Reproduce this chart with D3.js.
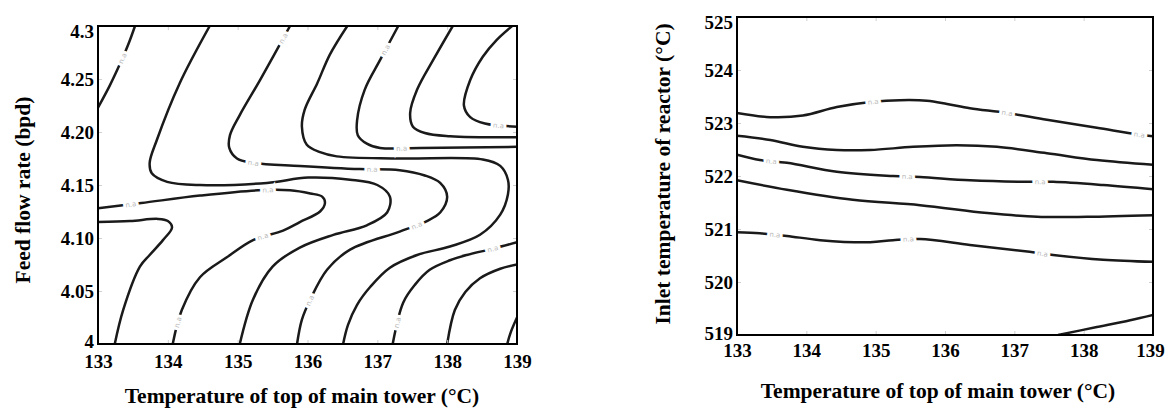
<!DOCTYPE html>
<html>
<head>
<meta charset="utf-8">
<script src="https://cdn.jsdelivr.net/npm/d3@7"></script>
<style>
body { margin: 0; background: #fff; }
svg { display: block; font-family: "Liberation Serif", "Times New Roman", serif; font-weight: bold; }
.tick-label { font-size: 19px; fill: #000; }
.axis-title { font-size: 21.5px; fill: #000; }
.contour { fill: none; stroke: #1a1a1a; stroke-width: 2.5; }
.clabel { font-family: "DejaVu Sans", sans-serif; font-weight: normal; font-size: 7px; fill: #b8b8b8; stroke: #fff; stroke-width: 6px; paint-order: stroke; }
.faint line { stroke: #cfcfcf; }
.frame { fill: none; stroke: #000; stroke-width: 2; }
</style>
</head>
<body>
<svg id="chart" width="1166" height="408"></svg>
<script>
var xTicks = [133, 134, 135, 136, 137, 138, 139];
var xTitle = "Temperature of top of main tower (°C)";

var feedTicks = [4, 4.05, 4.10, 4.15, 4.20, 4.25, 4.3];
var feedTickLabels = ["4", "4.05", "4.10", "4.15", "4.20", "4.25", "4.3"];
var feedTitle = "Feed flow rate (bpd)";

var inletTicks = [519, 520, 521, 522, 523, 524, 525];
var inletTickLabels = ["519", "520", "521", "522", "523", "524", "525"];
var inletTitle = "Inlet temperature of reactor (°C)";

// contour lines, points are [temperature, feed rate]
var feedContours = [
  [[133.00,4.223],[133.17,4.244],[133.32,4.265],[133.43,4.282],[133.53,4.300]],
  [[134.60,4.300],[134.17,4.246],[133.84,4.192],[133.74,4.171],[133.77,4.161],[133.99,4.153],[134.46,4.150],[135.42,4.152],[136.01,4.157],[136.61,4.155],[137.00,4.150],[137.18,4.139],[137.14,4.124],[136.85,4.112],[136.37,4.103],[135.89,4.091],[135.50,4.073],[135.22,4.042],[135.03,4.000]],
  [[135.75,4.300],[135.32,4.249],[135.03,4.216],[134.89,4.197],[134.88,4.185],[134.99,4.175],[135.22,4.171],[135.89,4.168],[136.75,4.165],[137.32,4.164],[137.68,4.159],[137.90,4.152],[138.00,4.139],[137.90,4.124],[137.71,4.116],[137.32,4.106],[136.61,4.089],[136.28,4.070],[136.04,4.042],[135.92,4.023],[135.85,4.000]],
  [[136.57,4.300],[136.32,4.273],[136.14,4.246],[135.96,4.221],[135.92,4.205],[135.99,4.188],[136.18,4.181],[136.42,4.177],[137.32,4.175],[138.51,4.174],[138.76,4.168],[138.87,4.155],[138.87,4.141],[138.76,4.122],[138.47,4.103],[138.04,4.092],[137.57,4.084],[137.18,4.072],[136.90,4.054],[136.71,4.037],[136.58,4.018],[136.51,4.000]],
  [[137.30,4.300],[137.04,4.268],[136.82,4.240],[136.71,4.211],[136.72,4.197],[136.85,4.189],[137.04,4.185],[137.61,4.185],[139.00,4.186]],
  [[138.08,4.300],[137.80,4.268],[137.57,4.240],[137.47,4.218],[137.51,4.205],[137.68,4.199],[138.04,4.196],[139.00,4.195]],
  [[138.93,4.300],[138.71,4.287],[138.51,4.271],[138.33,4.249],[138.24,4.225],[138.33,4.214],[138.54,4.208],[139.00,4.205]],
  [[133.00,4.128],[133.62,4.133],[134.46,4.140],[135.29,4.145],[135.75,4.145],[136.04,4.142],[136.21,4.139],[136.25,4.133],[136.18,4.125],[135.89,4.115],[135.65,4.107],[135.22,4.098],[134.85,4.082],[134.46,4.063],[134.20,4.032],[134.07,4.000]],
  [[133.00,4.115],[133.46,4.116],[133.86,4.118],[134.00,4.116],[134.06,4.110],[133.93,4.098],[133.74,4.084],[133.60,4.073],[133.36,4.032],[133.24,4.000]],
  [[137.22,4.000],[137.37,4.039],[137.54,4.056],[137.75,4.070],[138.04,4.079],[138.28,4.084],[138.66,4.090],[139.00,4.096]],
  [[138.00,4.000],[138.11,4.032],[138.26,4.049],[138.47,4.062],[138.76,4.071],[139.00,4.075]],
  [[138.86,4.000],[138.91,4.011],[139.00,4.025]]
];
var feedLabelSpots = [
  [133.34,4.270],[135.22,4.171],[136.92,4.164],[137.57,4.110],[135.43,4.145],[133.47,4.131],
  [135.36,4.101],[137.35,4.185],[138.73,4.206],[138.66,4.089],[137.10,4.278],[135.62,4.290],
  [136.01,4.042],[134.15,4.020],[137.30,4.020]
];

// contour lines, points are [temperature, inlet temperature]
var inletContours = [
  [[133.00,523.19],[133.48,523.11],[133.95,523.14],[134.44,523.30],[134.96,523.40],[135.35,523.43],[135.74,523.42],[136.03,523.36],[136.36,523.28],[136.89,523.19],[137.47,523.06],[138.19,522.91],[138.81,522.78],[139.00,522.75]],
  [[133.00,522.76],[133.48,522.68],[133.95,522.55],[134.44,522.49],[134.92,522.49],[135.54,522.55],[136.17,522.58],[136.75,522.55],[137.47,522.43],[138.19,522.30],[139.00,522.21]],
  [[133.00,522.40],[133.33,522.30],[133.72,522.25],[134.44,522.08],[135.25,522.00],[135.64,521.98],[136.36,521.92],[137.18,521.89],[137.56,521.89],[138.28,521.83],[139.00,521.75]],
  [[133.00,521.92],[133.72,521.74],[134.67,521.55],[135.64,521.45],[136.61,521.30],[137.33,521.23],[138.05,521.23],[139.00,521.26]],
  [[133.00,520.94],[133.33,520.92],[133.72,520.87],[134.20,520.79],[134.92,520.75],[135.25,520.79],[135.64,520.81],[136.36,520.70],[137.22,520.57],[137.56,520.51],[138.28,520.42],[139.00,520.38]],
  [[137.63,519.00],[138.19,519.15],[138.67,519.28],[139.00,519.38]]
];
var inletLabelSpots = [
  [134.96,523.40],[136.89,523.19],[138.81,522.78],[133.50,522.28],[135.45,521.99],[137.37,521.89],
  [133.55,520.90],[135.47,520.80],[137.40,520.53]
];

var svg = d3.select("#chart");

function drawPanel(cfg) {
  var x = d3.scaleLinear().domain([133, 139]).range([cfg.left, cfg.right]);
  var y = d3.scaleLinear().domain(cfg.yDomain).range([cfg.bottom, cfg.top]);
  var g = svg.append("g");

  g.append("clipPath").attr("id", cfg.id + "-clip")
    .append("rect")
    .attr("x", cfg.left).attr("y", cfg.top)
    .attr("width", cfg.right - cfg.left).attr("height", cfg.bottom - cfg.top);

  var line = d3.line()
    .x(function(d) { return x(d[0]); })
    .y(function(d) { return y(d[1]); })
    .curve(d3.curveCatmullRom.alpha(0.5));

  var plot = g.append("g").attr("clip-path", "url(#" + cfg.id + "-clip)");

  var paths = plot.selectAll(".contour")
    .data(cfg.contours)
    .enter().append("path")
    .attr("class", "contour")
    .attr("d", line);

  // sample the drawn curves so each label sits on its line, turned along it
  var samples = [];
  paths.each(function() {
    var len = this.getTotalLength();
    var pts = [];
    for (var s = 0; s <= len; s += 1) pts.push(this.getPointAtLength(s));
    samples.push(pts);
  });

  cfg.labels.forEach(function(d) {
    var px = x(d[0]), py = y(d[1]);
    var best = null, bestDist = Infinity, bestPts = null, bestI = 0;
    samples.forEach(function(pts) {
      pts.forEach(function(p, i) {
        var dd = (p.x - px) * (p.x - px) + (p.y - py) * (p.y - py);
        if (dd < bestDist) { bestDist = dd; best = p; bestPts = pts; bestI = i; }
      });
    });
    var a = bestPts[Math.max(0, bestI - 4)], b = bestPts[Math.min(bestPts.length - 1, bestI + 4)];
    var ang = Math.atan2(b.y - a.y, b.x - a.x) * 180 / Math.PI;
    if (ang > 90) ang -= 180;
    if (ang < -90) ang += 180;
    plot.append("text")
      .attr("class", "clabel")
      .attr("text-anchor", "middle")
      .attr("dy", "0.35em")
      .attr("transform", "translate(" + best.x + "," + best.y + ") rotate(" + ang + ")")
      .text("n.a");
  });

  // faint inner tick marks on all four sides
  var faint = [
    [d3.axisBottom(x).tickValues(xTicks), "translate(0," + cfg.bottom + ")"],
    [d3.axisTop(x).tickValues(xTicks), "translate(0," + cfg.top + ")"],
    [d3.axisLeft(y).tickValues(cfg.yTicks), "translate(" + cfg.left + ",0)"],
    [d3.axisRight(y).tickValues(cfg.yTicks), "translate(" + cfg.right + ",0)"]
  ];
  faint.forEach(function(f) {
    var ax = g.append("g").attr("class", "faint").attr("transform", f[1])
      .call(f[0].tickSize(-4).tickFormat(""));
    ax.select(".domain").remove();
  });

  // tick labels
  var xAxis = g.append("g")
    .attr("transform", "translate(0," + cfg.bottom + ")")
    .call(d3.axisBottom(x).tickValues(xTicks).tickSize(0).tickPadding(cfg.xPad).tickFormat(d3.format("d")));
  xAxis.attr("font-size", null).attr("font-family", null);
  xAxis.select(".domain").remove();
  xAxis.selectAll("text").attr("class", "tick-label")
    .attr("x", function(d) { return d === 139 ? cfg.lastShift : 0; });

  var yAxis = g.append("g")
    .attr("transform", "translate(" + cfg.left + ",0)")
    .call(d3.axisLeft(y).tickValues(cfg.yTicks).tickSize(0).tickPadding(4)
      .tickFormat(function(d, i) { return cfg.yLabels[i]; }));
  yAxis.attr("font-size", null).attr("font-family", null);
  yAxis.select(".domain").remove();
  yAxis.selectAll("text").attr("class", "tick-label")
    .attr("y", function(d) {
      if (d === cfg.yDomain[1]) return 5;
      if (d === cfg.yDomain[0]) return cfg.firstShift;
      return 0;
    });

  g.append("rect")
    .attr("class", "frame")
    .attr("x", cfg.left).attr("y", cfg.top)
    .attr("width", cfg.right - cfg.left).attr("height", cfg.bottom - cfg.top);

  g.append("text")
    .attr("class", "axis-title")
    .attr("text-anchor", "middle")
    .attr("x", cfg.xTitleX).attr("y", cfg.xTitleY)
    .text(xTitle);

  g.append("text")
    .attr("class", "axis-title")
    .attr("text-anchor", "middle")
    .attr("transform", "translate(" + cfg.yTitleX + "," + cfg.yTitleY + ") rotate(-90)")
    .text(cfg.yTitle);
}

drawPanel({
  id: "feed",
  left: 98, right: 517, top: 26, bottom: 344,
  yDomain: [4, 4.3], yTicks: feedTicks, yLabels: feedTickLabels,
  contours: feedContours, labels: feedLabelSpots,
  xPad: 11, lastShift: 0, firstShift: -3, xTitleX: 302, xTitleY: 403,
  yTitle: feedTitle, yTitleX: 30, yTitleY: 190
});

drawPanel({
  id: "inlet",
  left: 737, right: 1153, top: 17, bottom: 335,
  yDomain: [519, 525], yTicks: inletTicks, yLabels: inletTickLabels,
  contours: inletContours, labels: inletLabelSpots,
  xPad: 9, lastShift: -3, firstShift: -2, xTitleX: 938, xTitleY: 398,
  yTitle: inletTitle, yTitleX: 670, yTitleY: 174
});
</script>
</body>
</html>
